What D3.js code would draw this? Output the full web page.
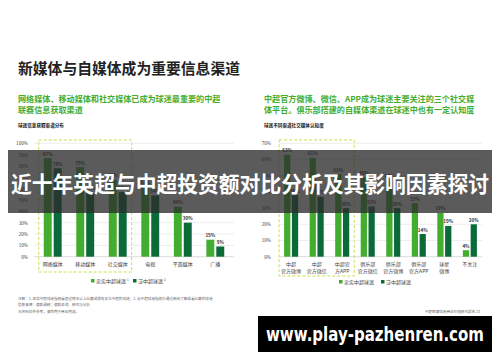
<!DOCTYPE html>
<html>
<head>
<meta charset="utf-8">
<script src="https://cdn.jsdelivr.net/npm/d3@7"></script>
<style>
  body { margin: 0; background: #fff; }
  svg { font-family: "Noto Sans CJK SC", "Noto Sans", sans-serif; display: block; }
</style>
</head>
<body>
<div id="chart"></div>
<script>
// left chart: 球迷信息获取渠道分布
const leftCats = ["网络媒体", "移动媒体", "社交媒体", "电视", "平面媒体", "广播"];
const leftLoyal = [87, 79, 68, 62, 44, 15];
const leftBroad = [78, 57, 57, 54, 30, 9];
const leftTicks = [0, 10, 20, 30, 40, 50, 60, 70, 80, 90, 100];

// right chart: 球迷不同渠道社交媒体认知度
const rightCats = [["中超", "官方微博"], ["中超", "官方微信"], ["中超官", "方APP"], ["俱乐部", "官方微信"],
                   ["俱乐部", "官方微博"], ["俱乐部", "官方APP"], ["球星", "微博"], ["不关注"]];
const rightLoyal = [63, 61, 51, 49, 47, 33, 27, 4];
const rightBroad = [38, 37, 30, 31, 30, 14, 19, 20];
const rightTicks = [0, 10, 20, 30, 40, 50, 60, 70];

const seriesNames = ["忠实中超球迷", "泛中超球迷"];
const green = "#43ad2f", dark = "#0b6b38";

const W = 500, H = 362;
let svg = d3.select("#chart").append("svg").attr("width", W).attr("height", H);

// headings
svg.append("text").attr("x", 18).attr("y", 74).text("新媒体与自媒体成为重要信息渠道")
  .attr("textLength", 222).attr("lengthAdjust", "spacingAndGlyphs")
  .style("font-size", "14.8px").style("font-weight", "bold").style("fill", "#222");

function para(x, y, lines, size, color, weight, lh) {
  lines.forEach((t, i) => {
    svg.append("text").attr("x", x).attr("y", y + i * (lh || size + 2.5)).text(t)
      .style("font-size", size + "px").style("fill", color).style("font-weight", weight);
  });
}
para(18, 102, ["网络媒体、移动媒体和社交媒体已成为球迷最重要的中超", "联赛信息获取渠道"], 8.1, "#43ad2f", "bold", 10.5);
para(264, 102, ["中超官方微博、微信、APP成为球迷主要关注的三个社交媒", "体平台。俱乐部搭建的自媒体渠道在球迷中也有一定认知度"], 8.1, "#43ad2f", "bold", 10.5);
para(18, 127, ["球迷信息获取渠道分布"], 4.6, "#111", "bold");
para(264, 127, ["球迷不同渠道社交媒体认知度"], 4.6, "#111", "bold");

function barChart(o) {
  let g = svg.append("g");
  let y = d3.scaleLinear().domain([0, o.max]).range([o.y0, o.y1]);
  let x0 = d3.scaleBand().domain(d3.range(o.cats.length)).range([o.xL, o.xR]).paddingInner(0.45).paddingOuter(o.po);
  let x1 = d3.scaleBand().domain([0, 1]).range([0, x0.bandwidth()]).paddingInner(0.2);

  // box around highlighted group
  g.append("rect")
    .attr("x", x0(0) - o.boxPad).attr("y", o.boxTop)
    .attr("width", x0(o.boxN - 1) + x0.bandwidth() - x0(0) + 2 * o.boxPad)
    .attr("height", o.boxBottom - o.boxTop)
    .style("fill", "none").style("stroke", "#c9e04b").style("stroke-width", 1)
    .style("stroke-dasharray", "3,2");

  // grid
  g.selectAll(".grid").data(o.ticks).enter().append("line")
    .attr("x1", o.xL).attr("x2", o.xR)
    .attr("y1", d => y(d)).attr("y2", d => y(d))
    .style("stroke", d => d === 0 ? "#ccc" : "#e6e6e6").style("stroke-width", 0.7);

  let axis = g.append("g").attr("transform", "translate(" + o.xL + ",0)")
    .call(d3.axisLeft(y).tickValues(o.ticks).tickFormat(d => d + "%").tickSize(0).tickPadding(o.tickPad));
  axis.select(".domain").remove();
  axis.selectAll("text").style("font-size", "4.6px").style("fill", "#444").style("font-family", "Noto Sans CJK SC");

  [o.a, o.b].forEach((vals, s) => {
    g.selectAll(".bar" + s).data(vals).enter().append("rect")
      .attr("x", (d, i) => x0(i) + x1(s)).attr("width", x1.bandwidth())
      .attr("y", d => y(d)).attr("height", d => y(0) - y(d))
      .style("fill", s ? dark : green);
    g.selectAll(".lab" + s).data(vals).enter().append("text")
      .attr("x", (d, i) => x0(i) + x1(s) + x1.bandwidth() / 2)
      .attr("y", d => y(d) - 2.5).attr("text-anchor", "middle")
      .text(d => d + "%").style("font-size", "4.6px").style("font-weight", "bold").style("fill", "#333");
  });

  o.cats.forEach((c, i) => {
    let lines = Array.isArray(c) ? c : [c];
    lines.forEach((t, k) => {
      g.append("text").attr("x", x0(i) + x0.bandwidth() / 2).attr("y", o.y0 + 9 + k * 7)
        .attr("text-anchor", "middle").text(t).style("font-size", "5px").style("fill", "#444");
    });
  });

  // legend
  let lg = g.append("g").attr("transform", "translate(" + o.legX + "," + o.legY + ")");
  seriesNames.forEach((n, i) => {
    lg.append("rect").attr("x", i * o.legGap).attr("y", -3).attr("width", 3.5).attr("height", 3.5)
      .style("fill", i ? dark : green);
    lg.append("text").attr("x", i * o.legGap + 5).attr("y", 0.8).text(n)
      .style("font-size", "5px").style("fill", "#444");
    if (o.sup) lg.append("text").attr("x", i * o.legGap + 6 + n.length * 5).attr("y", -1.5).text(i + 1)
      .style("font-size", "3px").style("fill", "#444");
  });
}

barChart({cats: leftCats, a: leftLoyal, b: leftBroad, ticks: leftTicks, max: 100,
  y0: 256.7, y1: 143.3, xL: 34, xR: 234, po: 0.3, tickPad: 6,
  boxN: 3, boxPad: 5, boxTop: 140, boxBottom: 272,
  legX: 91, legY: 282, legGap: 42, sup: true});

barChart({cats: rightCats, a: rightLoyal, b: rightBroad, ticks: rightTicks, max: 70,
  y0: 256.7, y1: 143.3, xL: 279, xR: 482, po: 0.2, tickPad: 8,
  boxN: 3, boxPad: 5, boxTop: 140, boxBottom: 276,
  legX: 339, legY: 283, legGap: 42, sup: false});

// notes
para(18, 300, ["注释：1. 忠实中超球迷指观看超过两年以上比赛或常规关注中超的球迷；2. 泛中超球迷指偶尔通过新闻了解或看比赛的球迷",
               "信息来源：德勤调研；德勤咨询、研究与分析"], 3.6, "#666", "normal");
para(18, 313, ["本资料仅供参考，请勿用于商业用途。"], 3.6, "#666", "normal");
svg.append("text").attr("x", 480).attr("y", 313).attr("text-anchor", "end")
  .text("中超联赛球迷商业价值研究报告      23").style("font-size", "3.6px").style("fill", "#666");

// overlay banner
svg.append("rect").attr("x", 8).attr("y", 150).attr("width", 484).attr("height", 63)
  .style("fill", "rgba(45,45,45,0.78)");
svg.append("text").attr("x", 11).attr("y", 192)
  .attr("textLength", 478).attr("lengthAdjust", "spacingAndGlyphs")
  .text("近十年英超与中超投资额对比分析及其影响因素探讨")
  .style("font-size", "21.5px").style("font-weight", "bold").style("fill", "#fff");

// watermark
svg.append("rect").attr("x", 258).attr("y", 316).attr("width", 234).attr("height", 36).style("fill", "#000");
svg.append("text").attr("x", 266).attr("y", 341)
  .attr("textLength", 218).attr("lengthAdjust", "spacingAndGlyphs")
  .text("www.play-pazhenren.com").style("font-family", "DejaVu Sans, sans-serif")
  .style("font-size", "19px").style("font-weight", "bold").style("fill", "#fff");
</script>
</body>
</html>
